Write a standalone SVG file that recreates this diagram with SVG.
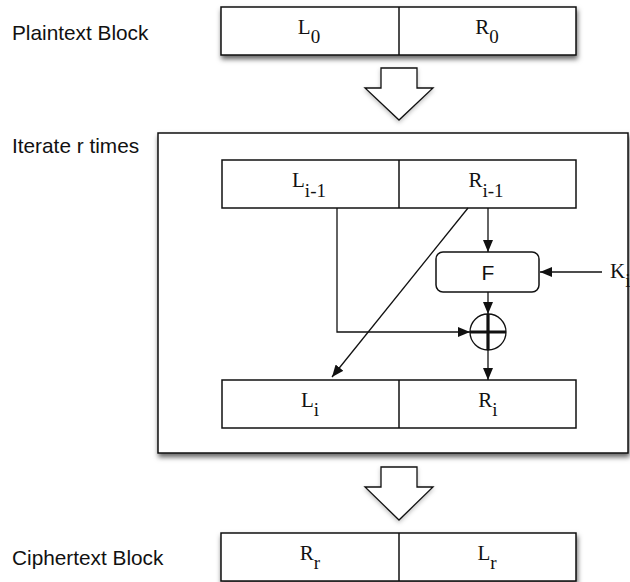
<svg xmlns="http://www.w3.org/2000/svg" width="630" height="582" viewBox="0 0 630 582">
  <style>
    .lbl { font-family: "Liberation Sans", Arial, Helvetica, sans-serif; font-size: 20.8px; fill: #111; }
    .var { font-family: "Liberation Serif", "Times New Roman", serif; font-size: 21px; fill: #111; text-anchor: middle; }
    .sub { font-size: 19px; }
    .cell { fill: #fff; stroke: #111; stroke-width: 1.5; }
    .div { stroke: #111; stroke-width: 1.5; }
    .wire { fill: none; stroke: #111; stroke-width: 1.3; }
    .hollow { fill: #fff; stroke: #111; stroke-width: 1.3; stroke-linejoin: miter; }
    .fn { font-family: "Liberation Sans", Arial, Helvetica, sans-serif; font-size: 21px; fill: #111; text-anchor: middle; }
  </style>
  <defs>
    <filter id="shadow" x="-10%" y="-20%" width="125%" height="150%">
      <feDropShadow dx="1" dy="3.5" stdDeviation="2.6" flood-color="#000" flood-opacity="0.6"/>
    </filter>
    <filter id="softShadow" x="-20%" y="-20%" width="140%" height="150%">
      <feDropShadow dx="0" dy="2" stdDeviation="2" flood-color="#000" flood-opacity="0.25"/>
    </filter>
    <marker id="head" markerUnits="userSpaceOnUse" markerWidth="12" markerHeight="10" refX="12" refY="5" orient="auto">
      <path d="M0,0 L12,5 L0,10 Z" fill="#111"/>
    </marker>
  </defs>

  <rect width="630" height="582" fill="#fff"/>

  <!-- side captions -->
  <text class="lbl" x="12" y="40">Plaintext Block</text>
  <text class="lbl" x="12" y="153">Iterate r times</text>
  <text class="lbl" x="12" y="565">Ciphertext Block</text>

  <!-- plaintext block -->
  <g id="plaintext">
    <rect class="cell" x="221" y="7" width="355" height="48" filter="url(#shadow)"/>
    <line class="div" x1="399" y1="7" x2="399" y2="55"/>
    <text class="var" x="309" y="34">L<tspan class="sub" dy="9">0</tspan></text>
    <text class="var" x="487" y="34">R<tspan class="sub" dy="9">0</tspan></text>
  </g>

  <!-- hollow arrow into the round -->
  <g id="arrow-in">
    <polygon class="hollow" filter="url(#softShadow)" points="381,68 417,68 417,88 433,88 399,120 365,88 381,88"/>
  </g>

  <!-- round frame -->
  <g id="round">
    <rect class="cell" x="158" y="133" width="470" height="320" filter="url(#shadow)"/>
  </g>

  <!-- input halves -->
  <g id="round-input">
    <rect class="cell" x="222" y="160" width="354" height="48"/>
    <line class="div" x1="399" y1="160" x2="399" y2="208"/>
    <text class="var" x="309" y="187">L<tspan class="sub" dy="9.5">i-1</tspan></text>
    <text class="var" x="486" y="187">R<tspan class="sub" dy="9.5">i-1</tspan></text>
  </g>

  <!-- round function -->
  <g id="f-box">
    <rect class="cell" x="436" y="252" width="103" height="40" rx="7" ry="7" stroke-width="1.3"/>
    <text class="fn" x="488" y="279.5">F</text>
  </g>

  <!-- subkey -->
  <g id="key">
    <text class="var" x="610" y="278" style="text-anchor:start">K<tspan class="sub" dy="9">i</tspan></text>
  </g>

  <!-- XOR -->
  <g id="xor">
    <circle cx="488" cy="332" r="18" fill="#fff" stroke="#111" stroke-width="1.3"/>
    <line x1="470" y1="332" x2="506" y2="332" stroke="#111" stroke-width="3.2"/>
    <line x1="488" y1="314" x2="488" y2="350" stroke="#111" stroke-width="3.2"/>
  </g>

  <!-- output halves -->
  <g id="round-output">
    <rect class="cell" x="222" y="380" width="354" height="48"/>
    <line class="div" x1="399" y1="380" x2="399" y2="428"/>
    <text class="var" x="310" y="407">L<tspan class="sub" dy="9">i</tspan></text>
    <text class="var" x="488" y="407">R<tspan class="sub" dy="9">i</tspan></text>
  </g>

  <!-- connectors -->
  <g id="connectors">
    <polyline class="wire" points="337,208 337,332 470,332" marker-end="url(#head)"/>
    <line class="wire" x1="468" y1="208" x2="332" y2="377" marker-end="url(#head)"/>
    <line class="wire" x1="488" y1="208" x2="488" y2="252" marker-end="url(#head)"/>
    <line class="wire" x1="602" y1="272" x2="540" y2="272" marker-end="url(#head)"/>
    <line class="wire" x1="488" y1="292" x2="488" y2="314" marker-end="url(#head)"/>
    <line class="wire" x1="488" y1="350" x2="488" y2="380" marker-end="url(#head)"/>
  </g>

  <!-- hollow arrow out of the round -->
  <g id="arrow-out">
    <polygon class="hollow" filter="url(#softShadow)" points="381,467 417,467 417,487 433,487 399,520 365,487 381,487"/>
  </g>

  <!-- ciphertext block -->
  <g id="ciphertext">
    <rect class="cell" x="221" y="533" width="355" height="48" filter="url(#shadow)"/>
    <line class="div" x1="399" y1="533" x2="399" y2="581"/>
    <text class="var" x="310" y="560">R<tspan class="sub" dy="9">r</tspan></text>
    <text class="var" x="487" y="560">L<tspan class="sub" dy="9">r</tspan></text>
  </g>
</svg>
